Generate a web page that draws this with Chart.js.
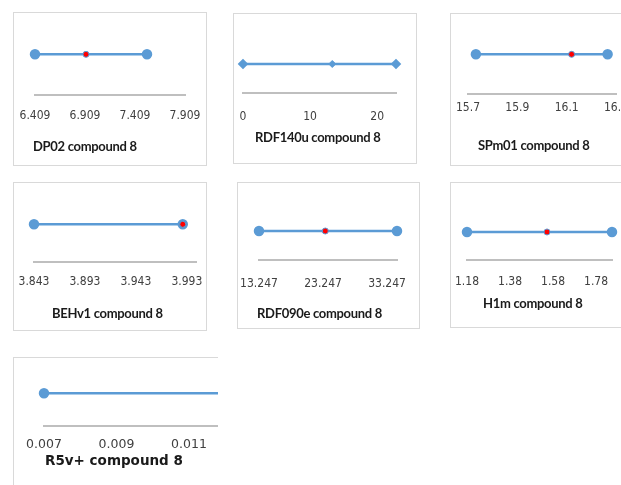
<!DOCTYPE html>
<html>
<head>
<meta charset="utf-8">
<script src="https://cdn.jsdelivr.net/npm/chart.js@4.4.1/dist/chart.umd.min.js"></script>
<style>
  html, body { margin: 0; padding: 0; background: #fff; overflow: hidden; width: 621px; height: 485px; }
  .panel { position: absolute; border: 1px solid #d9d9d9; box-sizing: border-box; background: #fff; }
  canvas.mini { position: absolute; }
  .title { position: absolute; white-space: nowrap; font-weight: bold; color: #1a1a1a; line-height: 18px; }
  #clip { position: absolute; left: 0; top: 0; width: 218px; height: 485px; overflow: hidden; }
</style>
</head>
<body>
<div id="clip"></div>
<script>
// descriptor ranges and the value of compound 8
const descriptors = ['DP02', 'RDF140u', 'SPm01', 'BEHv1', 'RDF090e', 'H1m', 'R5v+'];
const rangeLow  = [6.409, 0,    15.732, 3.843, 13.247, 1.18,  0.007];
const rangeHigh = [7.529, 22.8, 16.266, 3.989, 34.8,   1.854, 0.0125];
const compound8 = [6.919, 13.3, 16.12,  3.989, 23.6,   1.552, null];

// axis ranges and tick labels
const axisMin = [6.409, 0,    15.7, 3.843, 13.247, 1.18,  0.007];
const axisMax = [7.909, 22.8, 16.3, 4.002, 34.8,   1.854, 0.013];
const tickValues = [
  [6.409, 6.909, 7.409, 7.909],
  [0, 10, 20],
  [15.7, 15.9, 16.1, 16.3],
  [3.843, 3.893, 3.943, 3.993],
  [13.247, 23.247, 33.247],
  [1.18, 1.38, 1.58, 1.78],
  [0.007, 0.009, 0.011, 0.013]
];

const BLUE = '#5b9bd5';
const RED = '#ff0000';
const NARROW = "'DejaVu Sans Condensed', sans-serif";
const TITLE = "Lato, 'DejaVu Sans Condensed', sans-serif";
const WIDE = "'DejaVu Sans', Verdana, sans-serif";
const AXIS_H = 40;

// page layout: box = [left, top, width, height]
const panels = [
  { box: [13, 12, 194, 154],  x0: 35,  x1: 185,   lineY: 53,  axisY: 95,  gap: 21, title: [33, 146] },
  { box: [233, 13, 184, 151], x0: 243, x1: 396,   lineY: 63,  axisY: 93,  gap: 24, title: [255, 137], diamond: true },
  { box: [450, 13, 200, 153], x0: 468, x1: 616,   lineY: 53,  axisY: 94,  gap: 14, title: [478, 145] },
  { box: [13, 182, 194, 149], x0: 34,  x1: 196,   lineY: 223, axisY: 262, gap: 20, title: [52, 313] },
  { box: [237, 182, 183, 147], x0: 259, x1: 397,  lineY: 230, axisY: 260, gap: 24, title: [257, 313] },
  { box: [450, 182, 200, 146], x0: 467, x1: 612,  lineY: 231, axisY: 260, gap: 22, title: [483, 303] },
  { box: [13, 357, 260, 160], x0: 44,  x1: 261.5, lineY: 392, axisY: 426, gap: 18, title: [45, 460], wide: true }
];

panels.forEach((p, i) => {
  const host = p.wide ? document.getElementById('clip') : document.body;
  const [bx, by, bw, bh] = p.box;

  const frame = document.createElement('div');
  frame.className = 'panel';
  Object.assign(frame.style, { left: bx + 'px', top: by + 'px', width: bw + 'px', height: bh + 'px' });
  host.appendChild(frame);

  const canvas = document.createElement('canvas');
  canvas.className = 'mini';
  canvas.width = bw;
  canvas.height = bh;
  Object.assign(canvas.style, { left: bx + 'px', top: by + 'px', width: bw + 'px', height: bh + 'px' });
  host.appendChild(canvas);

  const title = document.createElement('div');
  title.className = 'title';
  title.textContent = descriptors[i] + ' compound 8';
  title.style.left = p.title[0] + 'px';
  title.style.top = (p.title[1] - 9) + 'px';
  title.style.fontFamily = p.wide ? WIDE : TITLE;
  title.style.fontSize = p.wide ? '13.5px' : '13px';
  if (!p.wide) title.style.letterSpacing = '-0.3px';
  host.appendChild(title);

  const areaTop = 4;
  const axisLocal = p.axisY - by;
  const lineLocal = p.lineY - by;
  const style = p.diamond ? 'rectRot' : 'circle';

  const datasets = [];
  if (compound8[i] !== null) {
    datasets.push({
      data: [{ x: compound8[i], y: 0 }],
      showLine: false,
      pointStyle: style,
      pointRadius: p.diamond ? 3.5 : 3,
      pointBorderWidth: 1,
      pointBackgroundColor: p.diamond ? BLUE : RED,
      pointBorderColor: BLUE,
      clip: false
    });
  }
  datasets.push({
    data: [{ x: rangeLow[i], y: 0 }, { x: rangeHigh[i], y: 0 }],
    showLine: true,
    borderColor: BLUE,
    borderWidth: 2.5,
    pointStyle: style,
    pointRadius: p.diamond ? 3.5 : 4,
    pointBackgroundColor: BLUE,
    pointBorderColor: BLUE,
    clip: false
  });

  new Chart(canvas, {
    type: 'scatter',
    data: { datasets },
    options: {
      responsive: false,
      animation: false,
      events: [],
      layout: {
        padding: {
          left: p.x0 - bx,
          right: bx + bw - p.x1,
          top: areaTop,
          bottom: bh - axisLocal - AXIS_H
        }
      },
      plugins: { legend: { display: false }, tooltip: { enabled: false } },
      scales: {
        x: {
          type: 'linear',
          min: axisMin[i],
          max: axisMax[i],
          afterBuildTicks: s => { s.ticks = tickValues[i].map(v => ({ value: v })); },
          afterFit: s => { s.height = AXIS_H; s.paddingLeft = 0; s.paddingRight = 0; },
          grid: { display: false, drawTicks: false },
          border: { color: '#bfbfbf', width: 2 },
          ticks: {
            padding: p.gap - 7,
            autoSkip: false,
            maxRotation: 0,
            color: '#404040',
            font: { family: p.wide ? WIDE : NARROW, size: p.wide ? 12.5 : 12 },
            callback: v => String(v)
          }
        },
        y: {
          type: 'linear',
          display: false,
          min: -(axisLocal - lineLocal),
          max: lineLocal - areaTop
        }
      }
    }
  });
});
</script>
</body>
</html>
